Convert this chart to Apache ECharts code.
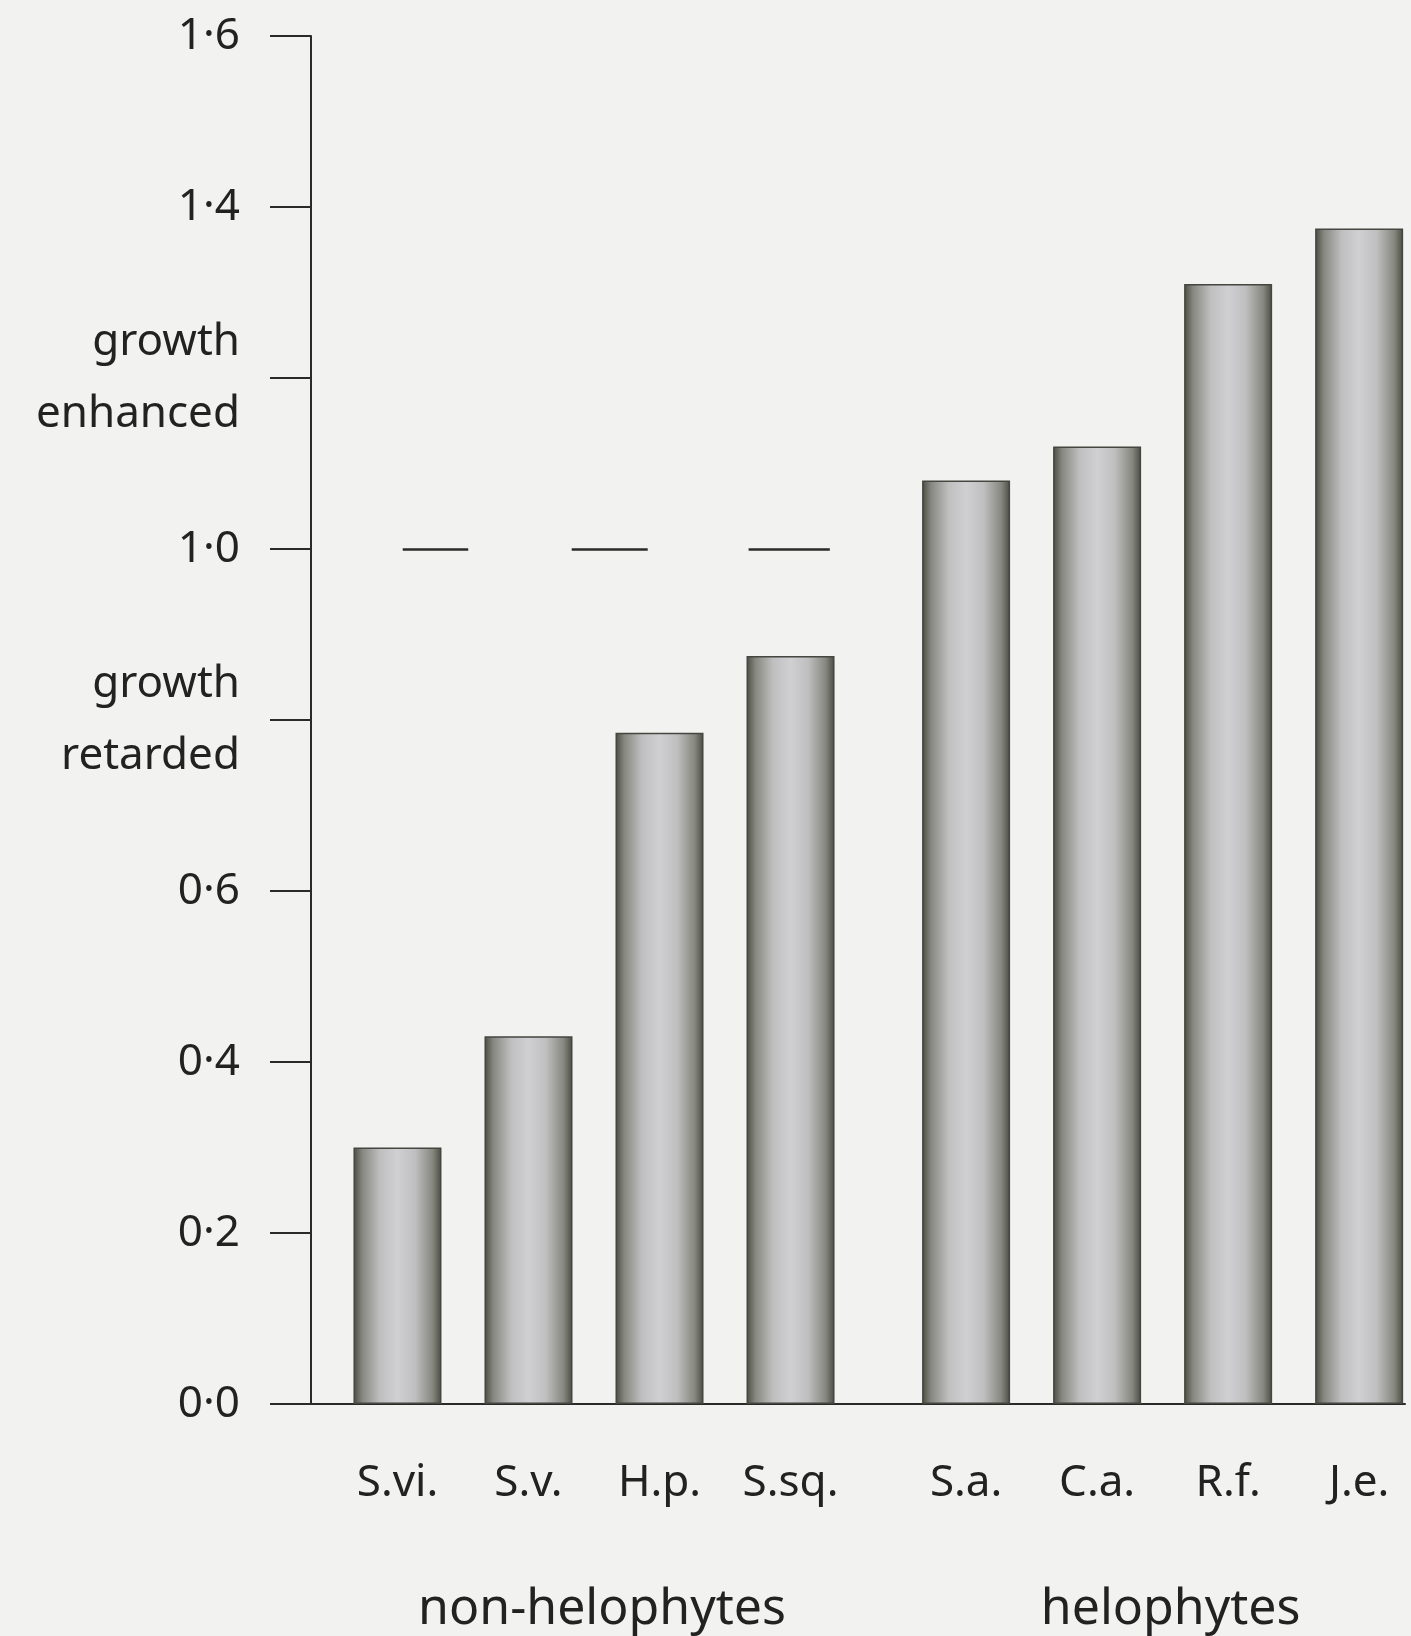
<!DOCTYPE html>
<html>
<head>
<meta charset="utf-8">
<script src="https://cdn.jsdelivr.net/npm/echarts@6/dist/echarts.min.js"></script>
<style>
html,body{margin:0;padding:0;background:#f2f2f0;}
#chart{width:1411px;height:1636px;}
</style>
</head>
<body>
<div id="chart"></div>
<script>
// ---- data ----
const species = ['S.vi.', 'S.v.', 'H.p.', 'S.sq.', 'S.a.', 'C.a.', 'R.f.', 'J.e.'];
const values  = [0.30, 0.43, 0.785, 0.875, 1.08, 1.12, 1.31, 1.375];
const groupOf = [0, 0, 0, 0, 1, 1, 1, 1];
const groups  = ['non-helophytes', 'helophytes'];
const yTicks  = { '0': '0·0', '0.2': '0·2', '0.4': '0·4', '0.6': '0·6', '0.8': 'growth\nretarded',
                  '1': '1·0', '1.2': 'growth\nenhanced', '1.4': '1·4', '1.6': '1·6' };
const refLevel = 1.0;
const refSegments = [[0.04, 0.54], [1.33, 1.91], [2.68, 3.30]];

// ---- layout ----
const GROUP_GAP = 0.34;
const xPos = species.map((s, i) => i + groupOf[i] * GROUP_GAP);
const FONT = '"Noto Sans", "DejaVu Sans", sans-serif';

const chart = echarts.init(document.getElementById('chart'), null, { renderer: 'canvas' });

const barGradient = new echarts.graphic.LinearGradient(0, 0, 1, 0, [
  { offset: 0, color: '#4a4c44' },
  { offset: 0.1, color: '#86877f' },
  { offset: 0.3, color: '#bfbfc0' },
  { offset: 0.5, color: '#d0d0d3' },
  { offset: 0.7, color: '#bfbfc0' },
  { offset: 0.9, color: '#86877f' },
  { offset: 1, color: '#4a4c44' }
]);

chart.setOption({
  backgroundColor: '#f2f2f0',
  animation: false,
  grid: { left: 311, right: 6, top: 27, bottom: 232, containLabel: false },
  xAxis: {
    type: 'value', min: -0.66, max: 7.69,
    axisLine: { show: true, onZero: false, lineStyle: { color: '#2a2a2a', width: 2 } },
    axisTick: { show: false }, axisLabel: { show: false }, splitLine: { show: false }
  },
  yAxis: {
    type: 'value', min: 0, max: 1.6, interval: 0.2,
    axisLine: { show: true, onZero: false, lineStyle: { color: '#2a2a2a', width: 2 } },
    axisTick: { show: true, inside: false, length: 41, lineStyle: { color: '#2a2a2a', width: 2 } },
    splitLine: { show: false },
    axisLabel: {
      margin: 71, color: '#222', fontFamily: FONT, fontSize: 44, lineHeight: 72,
      formatter: v => { const k = String(Math.round(v * 10) / 10); return yTicks[k] !== undefined ? yTicks[k] : ''; }
    }
  },
  series: [{
    type: 'bar',
    barWidth: 88,
    data: values.map((v, i) => [xPos[i], v]),
    itemStyle: { color: barGradient, borderColor: '#44463f', borderWidth: 1.5 },
    label: {
      show: true, position: 'bottom', distance: 57,
      color: '#222', fontFamily: FONT, fontSize: 44,
      formatter: p => species[p.dataIndex]
    },
    markLine: {
      silent: true, symbol: 'none',
      label: { show: false },
      lineStyle: { color: '#2a2a2a', width: 2.5, type: 'solid' },
      data: refSegments.map(([a, b]) => [{ coord: [a, refLevel] }, { coord: [b, refLevel] }])
    }
  }]
});

// group labels under each group
const groupTexts = groups.map((g, gi) => {
  const xs = xPos.filter((x, i) => groupOf[i] === gi);
  const mid = (Math.min(...xs) + Math.max(...xs)) / 2;
  const px = chart.convertToPixel({ xAxisIndex: 0, yAxisIndex: 0 }, [mid, 0]);
  return {
    type: 'text', x: px[0] + 8, y: px[1] + 206,
    style: { text: g, fill: '#222', font: '50px ' + FONT, align: 'center', verticalAlign: 'middle' }
  };
});
chart.setOption({ graphic: groupTexts });
</script>
</body>
</html>
